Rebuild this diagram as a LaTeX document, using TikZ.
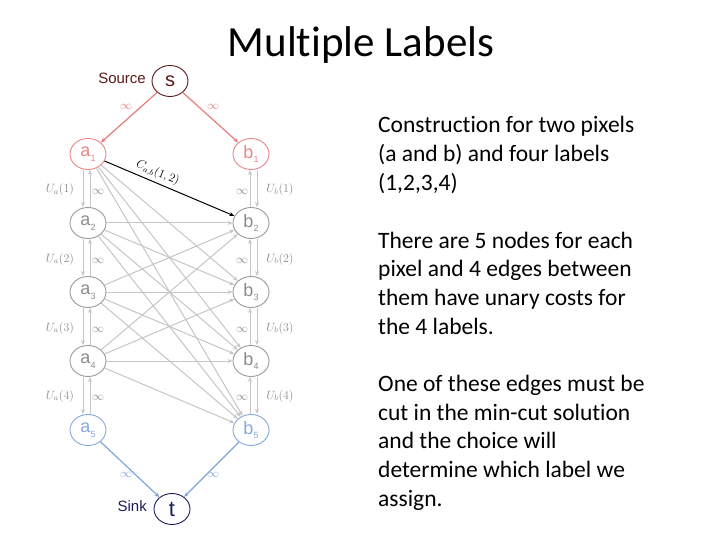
\documentclass[tikz,border=0pt]{standalone}
\usepackage{fontspec}
\setmainfont[Ligatures={NoCommon,NoContextual}]{Carlito}
\newfontfamily\arialf{Liberation Sans}
\usetikzlibrary{arrows.meta,calc,shapes.geometric}
\definecolor{redE}{HTML}{E87C7C}
\definecolor{redN}{HTML}{E98686}
\definecolor{gryN}{HTML}{9A9A9A}
\definecolor{gryE}{HTML}{C6C6C6}
\definecolor{gryT}{HTML}{8C8C8C}
\definecolor{bluN}{HTML}{86A9DC}
\definecolor{bluE}{HTML}{7EA6DC}
\definecolor{srcC}{HTML}{5C1A1A}
\definecolor{snkC}{HTML}{1C1C5A}
\newcommand\nlab[2]{#1\raisebox{-0.25em}{\fontsize{9}{9}\selectfont #2}}
\begin{document}
\begin{tikzpicture}[x=1pt,y=-1pt,
  vtx/.style={ellipse,draw,line width=0.9pt,minimum width=36pt,minimum height=31pt,inner sep=0pt,
    font=\arialf\fontsize{18}{18}\selectfont},
  gv/.style={vtx,draw=gryN,text=gryT},
  rv/.style={vtx,draw=redN,text=redN},
  bv/.style={vtx,draw=bluN,text=bluN},
  tip/.style={-{Stealth[length=5pt,width=4pt]}},
  gedge/.style={tip,draw=gryE,line width=1pt},
  redge/.style={tip,draw=redE,line width=1.2pt},
  bedge/.style={tip,draw=bluE,line width=1.2pt},
  mlab/.style={font=\fontsize{11.5}{11.5}\selectfont,text=gryT,inner sep=0pt},
  inf/.style={font=\fontsize{12}{12}\selectfont,inner sep=0pt},
  txt/.style={anchor=base west,inner sep=0pt,font=\fontsize{23.5}{23.5}\selectfont}]
\useasboundingbox (0,0) rectangle (720,540);
\fill[white] (0,0) rectangle (720,540);

% title
\node[anchor=base,inner sep=0pt,font=\fontsize{43}{43}\selectfont] (title) at (361,57) {Mult\kern0pt iple Labels};

% right text
\node[txt] (p1a) at (378,133) {Construc\kern0pt tion for two pixels};
\node[txt] (p1b) at (378,161.7) {(a and b) and four labels};
\node[txt] (p1c) at (378,190.4) {(1,2,3,4)};
\node[txt] (p2a) at (378,248) {There are 5 nodes for each};
\node[txt] (p2b) at (378,276.7) {pixel and 4 edges between};
\node[txt] (p2c) at (378,305.4) {them have unary costs for};
\node[txt] (p2d) at (378,334) {the 4 labels.};
\node[txt] (p3a) at (378,391.5) {One of these edges must be};
\node[txt] (p3b) at (378,420.2) {cut in the min-cut solut\kern0pt ion};
\node[txt] (p3c) at (378,448.9) {and the choice will};
\node[txt] (p3d) at (378,477.6) {determine which label we};
\node[txt] (p3e) at (378,506.3) {assign.};

% graph nodes
\node[vtx,draw=srcC,text=srcC,font=\arialf\fontsize{20}{20}\selectfont] (s) at (170,81) {s};
\node[vtx,draw=snkC,text=snkC,font=\arialf\fontsize{22}{22}\selectfont] (t) at (172,509) {t};
\node[anchor=base east,inner sep=0pt,text=srcC,font=\arialf\fontsize{15}{15}\selectfont] (srclbl) at (146,84) {Source};
\node[anchor=base east,inner sep=0pt,text=snkC,font=\arialf\fontsize{15}{15}\selectfont] (snklbl) at (147,511) {Sink};

\node[rv] (a1) at (88,154) {\nlab{a}{1}};
\node[rv] (b1) at (251,154) {\nlab{b}{1}};
\node[gv] (a2) at (88,223) {\nlab{a}{2}};
\node[gv] (b2) at (251,223) {\nlab{b}{2}};
\node[gv] (a3) at (88,292) {\nlab{a}{3}};
\node[gv] (b3) at (251,292) {\nlab{b}{3}};
\node[gv] (a4) at (88,361) {\nlab{a}{4}};
\node[gv] (b4) at (251,361) {\nlab{b}{4}};
\node[bv] (a5) at (88,430) {\nlab{a}{5}};
\node[bv] (b5) at (251,430) {\nlab{b}{5}};

% source / sink edges
\draw[redge] (s) -- (a1);
\draw[redge] (s) -- (b1);
\draw[bedge] (a5) -- (t);
\draw[bedge] (b5) -- (t);
\node[inf,text=redE] (i1) at (126,107) {$\infty$};
\node[inf,text=redE] (i2) at (213,107) {$\infty$};
\node[inf,text=bluE] (i3) at (126,475) {$\infty$};
\node[inf,text=bluE] (i4) at (213,475) {$\infty$};

% chain edges and labels
\foreach \i/\j/\m in {1/2/190,2/3/259,3/4/328,4/5/396}{
  \draw[gedge] ($(a\i.south)+(-5,0)$) -- ($(a\j.north)+(-5,0)$);
  \draw[gedge] ($(a\j.north)+(2,0)$) -- ($(a\i.south)+(2,0)$);
  \draw[gedge] ($(b\j.north)+(-1,0)$) -- ($(b\i.south)+(-1,0)$);
  \draw[gedge] ($(b\i.south)+(6,0)$) -- ($(b\j.north)+(6,0)$);
  \node[mlab] (ua\i) at (60,\m) {$U_a(\i)$};
  \node[inf,text=gryT] (ia\i) at (98,\m+2) {$\infty$};
  \node[inf,text=gryT] (ib\i) at (242,\m+2) {$\infty$};
  \node[mlab] (ub\i) at (280,\m) {$U_b(\i)$};
}

% cross edges
\foreach \i in {1,...,4}{
  \foreach \j in {2,...,5}{
    \ifnum\i=1 \ifnum\j=2 \else \draw[gedge] (a\i) -- (b\j); \fi
    \else \draw[gedge] (a\i) -- (b\j); \fi
  }
}
\draw[tip,line width=1pt,black] (a1) -- node[pos=0.38,sloped,above,inner sep=3pt,font=\fontsize{11.5}{11.5}\selectfont] {$C_{a,b}(1,2)$} (b2);
\end{tikzpicture}
\end{document}
